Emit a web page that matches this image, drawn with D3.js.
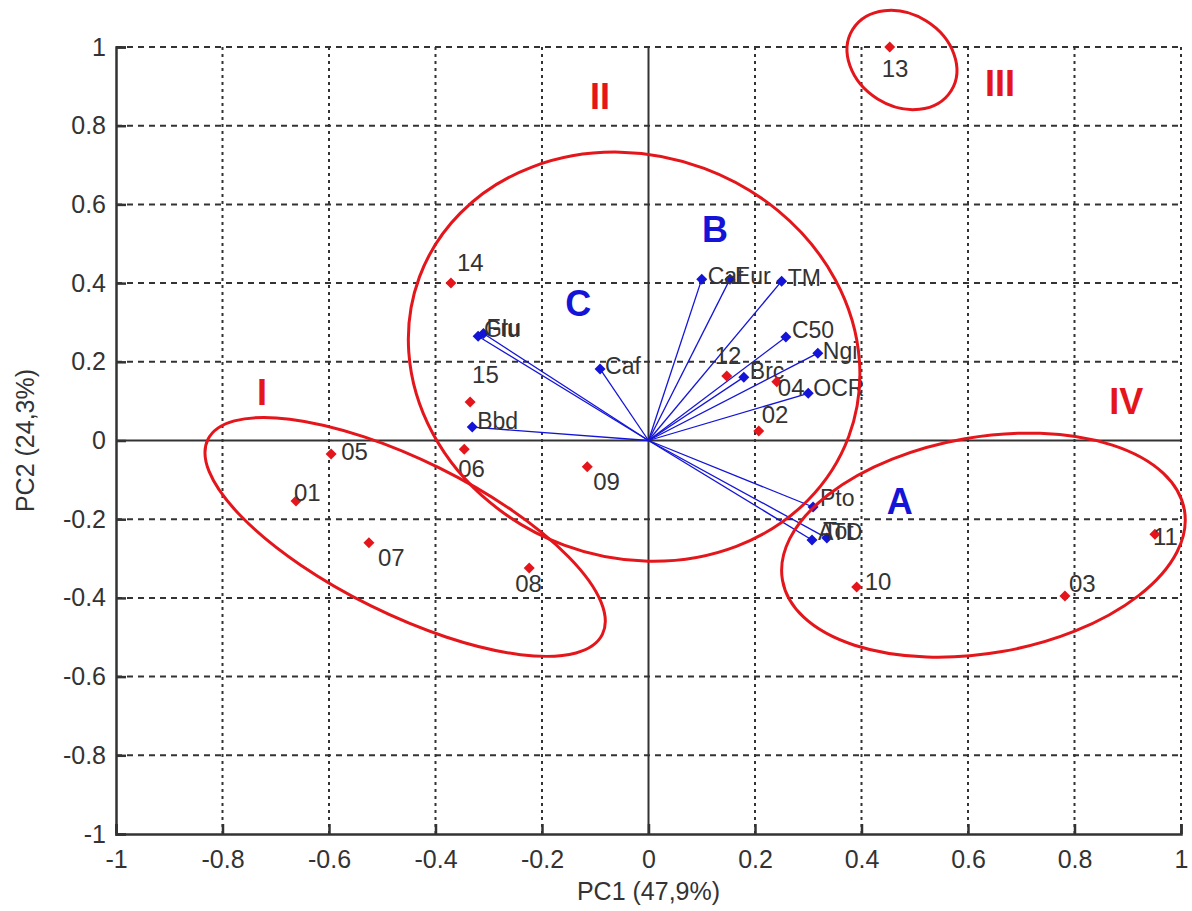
<!DOCTYPE html>
<html>
<head>
<meta charset="utf-8">
<script src="https://cdn.jsdelivr.net/npm/d3@7"></script>
<style>
  html, body { margin: 0; padding: 0; background: #fff; }
  svg { display: block; font-family: "Liberation Sans", Arial, sans-serif; }
</style>
</head>
<body>
<svg id="chart" width="1192" height="911"></svg>
<script>
// PCA biplot: sample scores (red) and variable loadings (blue vectors)

// Sample scores
const obsNames = ["01","02","03","04","05","06","07","08","09","10","11","12","13","14","15"];
const obsPC1   = [-0.662, 0.207, 0.782, 0.241, -0.596, -0.346, -0.525, -0.224, -0.115, 0.391, 0.951, 0.147, 0.453, -0.371, -0.335];
const obsPC2   = [-0.154, 0.024, -0.395, 0.149, -0.034, -0.022, -0.260, -0.324, -0.067, -0.372, -0.238, 0.164, 1.000, 0.400, 0.098];

// Variable loadings
const varNames = ["Cat","Eur","TM","C50","Ngi","Brc","OCR","Caf","Glu","Fru","Bbd","Pto","ATD","Tot"];
const varPC1   = [0.100, 0.153, 0.250, 0.258, 0.318, 0.179, 0.300, -0.091, -0.320, -0.310, -0.331, 0.309, 0.307, 0.335];
const varPC2   = [0.410, 0.410, 0.405, 0.263, 0.222, 0.161, 0.120, 0.182, 0.265, 0.272, 0.034, -0.169, -0.253, -0.248];

// Axis ticks
const xTicks = [-1, -0.8, -0.6, -0.4, -0.2, 0, 0.2, 0.4, 0.6, 0.8, 1];
const yTicks = [-1, -0.8, -0.6, -0.4, -0.2, 0, 0.2, 0.4, 0.6, 0.8, 1];
const xTitle = "PC1 (47,9%)";
const yTitle = "PC2 (24,3%)";

// Group annotations (roman numerals = sample groups, letters = variable groups)
const groupNames = ["I", "II", "III", "IV"];
const groupPC1   = [-0.726, -0.091, 0.660, 0.897];
const groupPC2   = [0.121, 0.873, 0.908, 0.100];
const clusterNames = ["A", "B", "C"];
const clusterPC1   = [0.472, 0.125, -0.132];
const clusterPC2   = [-0.154, 0.535, 0.347];

// Group ellipses: centre in PC units
const ellCx = [-0.457, -0.027, 0.476, 0.629];
const ellCy = [-0.245, 0.213, 0.967, -0.266];

// ---- layout (pixels) ----
const ellRx  = [220, 229, 58, 204];
const ellRy  = [77, 201, 46, 108];
const ellRot = [26.3, 20.4, 32, -9.9];

// label offsets [dx to text start, dy to text middle]
const obsLabelOff = [[-2,-6],[3,-14],[4,-10],[1,8],[10,0],[-6,21],[9,17],[-14,18],[6,17],[8,-3],[-2,5],[-12,-18],[-8,24],[6,-18],[2,-25]];
const varLabelOff = [[6,-1],[5,-1],[6,-1],[6,-5],[5,0],[6,-4],[5,-3],[5,-1],[6,-5],[3,-4],[5,-4],[7,-7],[6,-6],[-4,-5]];

const RED = "#e4161b", BLUE = "#1414d8", INK = "#333";

const svg = d3.select("#chart");
const x = d3.scaleLinear().domain([-1, 1]).range([116, 1181]);
const y = d3.scaleLinear().domain([-1, 1]).range([834, 47]);

const fmt = d => String(+d.toFixed(1));

// grid
const grid = svg.append("g");
grid.selectAll("line.h").data(yTicks.filter(t => t !== -1 && t !== 0)).join("line")
  .attr("x1", x(-1)).attr("x2", x(1))
  .attr("y1", d => y(d)).attr("y2", d => y(d))
  .attr("stroke", INK).attr("stroke-width", 2).attr("stroke-dasharray", "6,5");
grid.selectAll("line.v").data(xTicks.filter(t => t !== -1 && t !== 0)).join("line")
  .attr("y1", y(-1)).attr("y2", y(1))
  .attr("x1", d => x(d)).attr("x2", d => x(d))
  .attr("stroke", INK).attr("stroke-width", 2).attr("stroke-dasharray", "3,4");

// zero lines
svg.append("line").attr("x1", x(-1)).attr("x2", x(1)).attr("y1", y(0)).attr("y2", y(0))
  .attr("stroke", INK).attr("stroke-width", 2);
svg.append("line").attr("x1", x(0)).attr("x2", x(0)).attr("y1", y(-1)).attr("y2", y(1))
  .attr("stroke", INK).attr("stroke-width", 2);

// axes
const gx = svg.append("g").attr("transform", `translate(0,${y(-1)})`)
  .call(d3.axisBottom(x).tickValues(xTicks).tickFormat(fmt).tickSize(-10).tickPadding(16));
const gy = svg.append("g").attr("transform", `translate(${x(-1)},0)`)
  .call(d3.axisLeft(y).tickValues(yTicks).tickFormat(fmt).tickSize(-10).tickPadding(10));
[gx, gy].forEach(g => {
  g.select(".domain").attr("stroke", INK).attr("stroke-width", 2.5);
  g.selectAll(".tick line").attr("stroke", INK).attr("stroke-width", 2.5);
  g.selectAll(".tick text").attr("fill", INK).attr("font-size", 25)
    .attr("font-family", "Liberation Sans, Arial, sans-serif");
});

// axis titles
svg.append("text").attr("x", x(0)).attr("y", 893).attr("text-anchor", "middle")
  .attr("dominant-baseline", "middle").attr("font-size", 25).attr("fill", INK).text(xTitle);
svg.append("text").attr("transform", `translate(27,${y(0)}) rotate(-90)`)
  .attr("text-anchor", "middle").attr("dominant-baseline", "middle")
  .attr("font-size", 25).attr("fill", INK).text(yTitle);

const diamond = r => `M0,${-r}L${r},0L0,${r}L${-r},0Z`;

// loading vectors
const vars = varNames.map((n, i) => ({ n, px: varPC1[i], py: varPC2[i], off: varLabelOff[i] }));
svg.append("g").selectAll("line").data(vars).join("line")
  .attr("x1", x(0)).attr("y1", y(0))
  .attr("x2", d => x(d.px)).attr("y2", d => y(d.py))
  .attr("stroke", BLUE).attr("stroke-width", 1.3);
svg.append("g").selectAll("path").data(vars).join("path")
  .attr("d", diamond(5.5))
  .attr("transform", d => `translate(${x(d.px)},${y(d.py)})`)
  .attr("fill", BLUE);
svg.append("g").selectAll("text").data(vars).join("text")
  .attr("x", d => x(d.px) + d.off[0]).attr("y", d => y(d.py) + d.off[1])
  .attr("dominant-baseline", "middle").attr("font-size", 23).attr("fill", INK)
  .text(d => d.n);

// sample scores
const obs = obsNames.map((n, i) => ({ n, px: obsPC1[i], py: obsPC2[i], off: obsLabelOff[i] }));
svg.append("g").selectAll("path").data(obs).join("path")
  .attr("d", diamond(5.5))
  .attr("transform", d => `translate(${x(d.px)},${y(d.py)})`)
  .attr("fill", RED);
svg.append("g").selectAll("text").data(obs).join("text")
  .attr("x", d => x(d.px) + d.off[0]).attr("y", d => y(d.py) + d.off[1])
  .attr("dominant-baseline", "middle").attr("font-size", 24).attr("fill", INK)
  .text(d => d.n);

// group ellipses
const ells = ellCx.map((c, i) => ({ cx: c, cy: ellCy[i], rx: ellRx[i], ry: ellRy[i], rot: ellRot[i] }));
svg.append("g").selectAll("ellipse").data(ells).join("ellipse")
  .attr("transform", d => `translate(${x(d.cx)},${y(d.cy)}) rotate(${d.rot})`)
  .attr("rx", d => d.rx).attr("ry", d => d.ry)
  .attr("fill", "none").attr("stroke", RED).attr("stroke-width", 3);

// group labels
svg.append("g").selectAll("text").data(groupNames).join("text")
  .attr("x", (d, i) => x(groupPC1[i])).attr("y", (d, i) => y(groupPC2[i]))
  .attr("text-anchor", "middle").attr("dominant-baseline", "central")
  .attr("font-size", 36).attr("font-weight", "bold").attr("fill", RED)
  .text(d => d);
svg.append("g").selectAll("text").data(clusterNames).join("text")
  .attr("x", (d, i) => x(clusterPC1[i])).attr("y", (d, i) => y(clusterPC2[i]))
  .attr("text-anchor", "middle").attr("dominant-baseline", "central")
  .attr("font-size", 36).attr("font-weight", "bold").attr("fill", BLUE)
  .text(d => d);
</script>
</body>
</html>
